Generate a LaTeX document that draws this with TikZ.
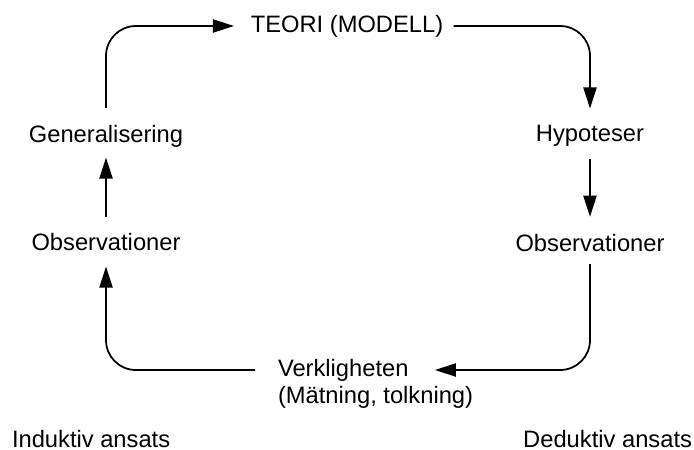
\documentclass[tikz,border=0pt]{standalone}
\usepackage{fontspec}
\setmainfont{Liberation Sans}
\usetikzlibrary{arrows.meta}

\begin{document}
\begin{tikzpicture}[x=0.02cm,y=-0.02cm,
  font=\fontsize{13.5}{15}\selectfont,
  steg/.style={inner sep=0pt,outer sep=0pt},
  pil/.style={line width=1pt,rounded corners=17pt,
    -{Triangle[length=12pt,width=7.5pt]}}]
\useasboundingbox (0,0) rectangle (694,450);
\node[steg] (teori) at (347,26) {TEORI (MODELL)};
\node[steg] (gen) at (106,136) {Generalisering};
\node[steg] (obsv) at (106,242) {Observationer};
\node[steg] (hyp) at (590,136) {Hypoteser};
\node[steg] (obsh) at (590,243) {Observationer};
\node[steg,anchor=west] (verk) at (278,370) {Verkligheten};
\node[steg,anchor=base west] (matn) at (278,403) {(Mätning, tolkning)};
\node[steg,anchor=base west] (ind) at (12,447) {Induktiv ansats};
\node[steg,anchor=base east] (ded) at (692,447) {Deduktiv ansats};
\draw[pil,shorten <=9.6pt,shorten >=9.6pt] (gen.north) |- (teori.west);
\draw[pil,shorten <=6pt,shorten >=9.6pt] (teori.east) -| (hyp.north);
\draw[pil,shorten <=7pt,shorten >=10pt] (hyp.south) -- (obsh.north);
\draw[pil,shorten <=7pt,shorten >=15pt] (obsh.south) |- (verk.east);
\draw[pil,shorten <=13pt,shorten >=9pt] (verk.west) -| (obsv.south);
\draw[pil,shorten <=9pt,shorten >=6pt] (obsv.north) -- (gen.south);
\end{tikzpicture}
\end{document}
